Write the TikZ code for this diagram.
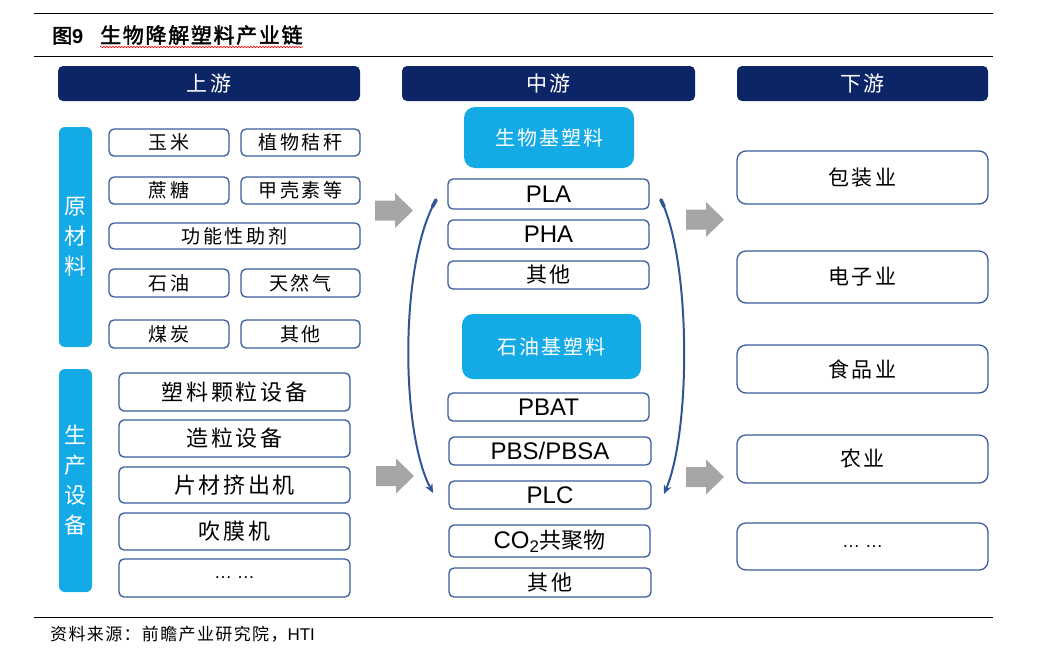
\documentclass[tikz,border=0pt]{standalone}
\usepackage{fontspec}
\setmainfont{Liberation Sans}
\newfontfamily\cjk[AutoFakeBold=2]{Noto Sans CJK SC}
\usetikzlibrary{arrows.meta,decorations.pathmorphing}
\definecolor{navy}{HTML}{0B2566}
\definecolor{skyb}{HTML}{14AAE6}
\definecolor{bd}{HTML}{3A5B9C}
\definecolor{crv}{HTML}{2F5597}
\definecolor{garrow}{HTML}{A6A6A6}
\newcommand{\fs}[1]{\fontsize{#1}{#1}\selectfont}
\newcommand{\ls}[1]{\addfontfeatures{LetterSpace=#1}}
\begin{document}
\begin{tikzpicture}[x=1pt,y=-1pt,
  box/.style={draw=bd, line width=1.3pt, rounded corners=5pt, fill=white, inner sep=0pt, align=center},
  sbox/.style={box, font=\cjk\ls{15}\fs{19}},
  ebox/.style={box, font=\cjk\ls{12}\fs{22}},
  mbox/.style={box, font=\fs{24}},
  dbox/.style={box, rounded corners=9pt, font=\cjk\ls{13}\fs{21}},
  headbox/.style={fill=navy, rounded corners=5pt, inner sep=0pt, text=white, font=\cjk\ls{10}\fs{21}},
  barbox/.style={fill=skyb, rounded corners=6pt, inner sep=0pt, text=white, align=center, font=\cjk\fontsize{22}{30}\selectfont},
  catbox/.style={fill=skyb, rounded corners=11pt, inner sep=0pt, text=white, font=\cjk\ls{10}\fs{20}},
  curve/.style={draw=crv, line width=2pt, line cap=round, -{Stealth[length=9pt,width=8pt]}},
  garr/.style={fill=garrow}
]
\useasboundingbox (0,0) rectangle (1064,662);

% rules
\coordinate (r1a) at (34,13); \coordinate (r1b) at (993,13);
\coordinate (r2a) at (34,56); \coordinate (r2b) at (993,56);
\coordinate (r3a) at (34,617); \coordinate (r3b) at (993,617);
\draw[line width=1pt] (r1a) -- (r1b);
\draw[line width=1pt] (r2a) -- (r2b);
\draw[line width=1pt] (r3a) -- (r3b);

% title
\node[anchor=base west, inner sep=0pt, font=\bfseries\fs{20}] (fig) at (52,43) {{\cjk 图}9};
\node[anchor=base west, inner sep=0pt, font=\cjk\bfseries\ls{8}\fs{21}] (ttl) at (100,43) {生物降解塑料产业链};
\draw[red, line width=0.6pt, decorate, decoration={snake, amplitude=0.8pt, segment length=3pt}]
  ([yshift=-4pt]ttl.base west) -- ([yshift=-4pt]ttl.base east);

% headers
\node[headbox, minimum width=302pt, minimum height=35pt] (hup) at (209,83.5) {上游};
\node[headbox, minimum width=293pt, minimum height=35pt] (hmid) at (548.5,83.5) {中游};
\node[headbox, minimum width=251pt, minimum height=35pt] (hdown) at (862.5,83.5) {下游};

% left bars
\node[barbox, minimum width=33pt, minimum height=220pt] (raw) at (75.5,237) {原\\材\\料};
\node[barbox, minimum width=33pt, minimum height=223pt] (equip) at (75.5,480.5) {生\\产\\设\\备};

% raw materials
\node[sbox, minimum width=120pt, minimum height=27pt] (ym) at (169,142.5) {玉米};
\node[sbox, minimum width=119pt, minimum height=27pt] (zw) at (300.5,142.5) {植物秸秆};
\node[sbox, minimum width=120pt, minimum height=27pt] (zt) at (169,190.5) {蔗糖};
\node[sbox, minimum width=119pt, minimum height=27pt] (jq) at (300.5,190.5) {甲壳素等};
\node[sbox, minimum width=251pt, minimum height=26pt] (gn) at (234.5,236) {功能性助剂};
\node[sbox, minimum width=120pt, minimum height=28pt] (sy) at (169,283) {石油};
\node[sbox, minimum width=119pt, minimum height=28pt] (tr) at (300.5,283) {天然气};
\node[sbox, minimum width=120pt, minimum height=28pt] (mt) at (169,334) {煤炭};
\node[sbox, minimum width=119pt, minimum height=28pt] (qt1) at (300.5,334) {其他};

% equipment
\node[ebox, minimum width=231pt, minimum height=38pt] (e1) at (234.5,392) {塑料颗粒设备};
\node[ebox, minimum width=231pt, minimum height=37pt] (e2) at (234.5,438.5) {造粒设备};
\node[ebox, minimum width=231pt, minimum height=36pt] (e3) at (234.5,485) {片材挤出机};
\node[ebox, minimum width=231pt, minimum height=37pt] (e4) at (234.5,531.5) {吹膜机};
\node[ebox, minimum width=231pt, minimum height=38pt, font=\fs{18}] (e5) at (234.5,578) {\ldots\ \ldots};

% middle
\node[catbox, minimum width=170pt, minimum height=61pt] (bio) at (549,137.5) {生物基塑料};
\node[mbox, minimum width=201pt, minimum height=30pt] (pla) at (548.5,194) {PLA};
\node[mbox, minimum width=201pt, minimum height=29pt] (pha) at (548.5,234.5) {PHA};
\node[mbox, minimum width=201pt, minimum height=28pt, font=\cjk\ls{10}\fs{21}] (qt2) at (548.5,275) {其他};
\node[catbox, minimum width=179pt, minimum height=65pt] (pet) at (551.5,346.5) {石油基塑料};
\node[mbox, minimum width=201pt, minimum height=28pt] (pbat) at (548.5,407) {PBAT};
\node[mbox, minimum width=202pt, minimum height=28pt] (pbs) at (550,451) {PBS/PBSA};
\node[mbox, minimum width=202pt, minimum height=28pt] (plc) at (550,495) {PLC};
\node[mbox, minimum width=201pt, minimum height=32pt] (co2) at (549.5,541) {CO\textsubscript{2}{\cjk\fontsize{22}{22}\selectfont 共聚物}};
\node[mbox, minimum width=202pt, minimum height=29pt, font=\cjk\ls{10}\fs{21}] (qt3) at (550,582.5) {其他};

% downstream
\node[dbox, minimum width=251pt, minimum height=53pt] (d1) at (862.5,177.5) {包装业};
\node[dbox, minimum width=251pt, minimum height=52pt] (d2) at (862.5,277) {电子业};
\node[dbox, minimum width=251pt, minimum height=48pt] (d3) at (862.5,369) {食品业};
\node[dbox, minimum width=251pt, minimum height=48pt] (d4) at (862.5,459) {农业};
\node[dbox, minimum width=251pt, minimum height=47pt, font=\fs{18}] (d5) at (862.5,546.5) {\ldots\ \ldots};

% curved bracket arrows
\coordinate (lt) at (436,200); \coordinate (lb) at (433,493);
\coordinate (rt) at (661,200); \coordinate (rb) at (664,494);
\draw[curve] (lt) .. controls (400,262) and (400,430) .. (lb);
\draw[curve] (rt) .. controls (691,262) and (691,430) .. (rb);
\draw[draw=crv, line width=3.6pt, line cap=round] (lt) -- ++(-3.5,6.5);
\draw[draw=crv, line width=3.6pt, line cap=round] (rt) -- ++(3,6.5);

% gray block arrows
\newcommand{\garrow}[2]{%
  \fill[garr] (#1,#2-10) -- (#1+20,#2-10) -- (#1+20,#2-17.5) -- (#1+38,#2) -- (#1+20,#2+17.5) -- (#1+20,#2+10) -- (#1,#2+10) -- cycle;}
\garrow{375}{210.5}
\garrow{376}{476}
\garrow{686}{219.5}
\garrow{686}{477}

% source
\node[anchor=base west, inner sep=0pt, font=\cjk\ls{8}\fs{17}] (src) at (50,640) {资料来源：前瞻产业研究院，{\fontspec{Liberation Sans}HTI}};
\end{tikzpicture}
\end{document}
